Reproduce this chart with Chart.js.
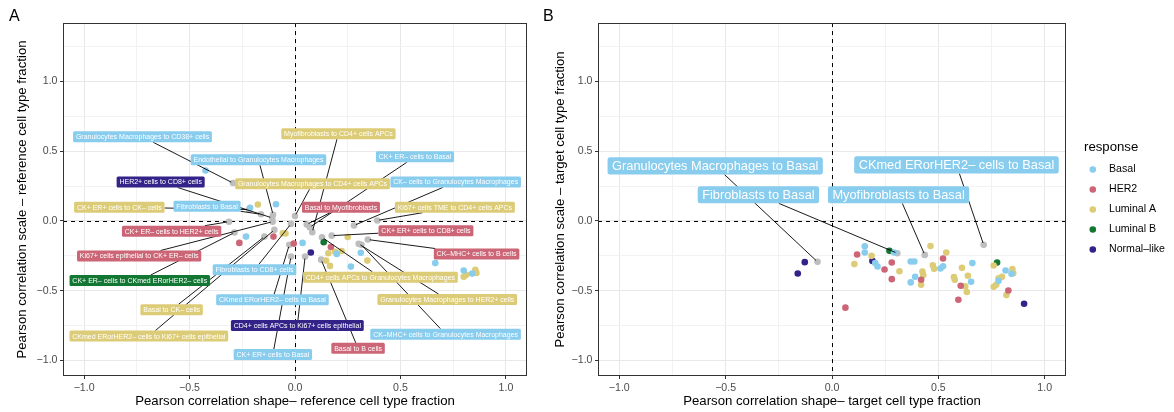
<!DOCTYPE html>
<html>
<head>
<meta charset="utf-8">
<script src="https://cdn.jsdelivr.net/npm/chart.js@4.4.0/dist/chart.umd.min.js"></script>
<style>
  body { margin: 0; background: #fff; }
  #wrap { position: relative; width: 1174px; height: 412px; overflow: hidden; }
  #chartA { position: absolute; left: 0; top: 0; }
  #chartB { position: absolute; left: 535px; top: 0; }
</style>
</head>
<body>
<div id="wrap">
  <canvas id="chartA" width="535" height="412"></canvas>
  <canvas id="chartB" width="639" height="412"></canvas>
</div>
<script>
const FONT = '"Liberation Sans", Arial, Helvetica, sans-serif';

// Response groups and their colours
const groups = ['Basal', 'HER2', 'Luminal A', 'Luminal B', 'Normal–like'];
const groupColors = ['#88CCEE', '#CC6677', '#DDCC77', '#117733', '#332288'];

// Axis breaks
const gridX = [-1, -0.75, -0.5, -0.25, 0, 0.25, 0.5, 0.75, 1];
const gridY = [-1, -0.75, -0.5, -0.25, 0, 0.25, 0.5, 0.75, 1, 1.25];
const majorBreaks = [-1, -0.5, 0, 0.5, 1];

// ---- Panel A: reference cell type fraction ----
const basalA = [[-0.424, 0.362], [-0.213, 0.095], [-0.09, 0.12], [-0.232, -0.112], [0.036, -0.157],
  [0.198, -0.236], [0.265, -0.327], [0.312, -0.228], [0.665, -0.302], [0.80, -0.355], [0.84, -0.377]];
const her2A = [[-0.264, -0.157], [-0.102, -0.112], [-0.006, -0.162], [0.17, -0.186]];
const lumAA = [[-0.176, 0.118], [-0.058, -0.088], [-0.045, -0.09], [0.25, -0.115], [0.158, -0.231],
  [0.19, -0.22], [0.221, -0.215], [0.147, -0.284], [0.166, -0.322], [0.343, -0.284],
  [0.80, -0.40], [0.812, -0.386], [0.855, -0.35], [0.86, -0.372]];
const lumBA = [[0.136, -0.152]];
const normalA = [[0.075, -0.226]];

const labelTextA = [
  'Granulocytes Macrophages to CD38+ cells',
  'Endothelial to Granulocytes Macrophages',
  'Myofibroblasts to CD4+ cells APCs',
  'CK+ ER– cells to Basal',
  'CK– cells to Granulocytes Macrophages',
  'HER2+ cells to CD8+ cells',
  'Granulocytes Macrophages to CD4+ cells APCs',
  'CK+ ER+ cells to CK– cells',
  'Fibroblasts to Basal',
  'Basal to Myofibroblasts',
  'Ki67+ cells TME to CD4+ cells APCs',
  'CK+ ER– cells to HER2+ cells',
  'CK+ ER+ cells to CD8+ cells',
  'Ki67+ cells epithelial to CK+ ER– cells',
  'CK–MHC+ cells to B cells',
  'Fibroblasts to CD8+ cells',
  'CK+ ER– cells to CKmed ERorHER2– cells',
  'CD4+ cells APCs to Granulocytes Macrophages',
  'Granulocytes Macrophages to HER2+ cells',
  'CKmed ERorHER2– cells to Basal',
  'Basal to CK– cells',
  'CKmed ERorHER2– cells to Ki67+ cells epithelial',
  'CD4+ cells APCs to Ki67+ cells epithelial',
  'CK–MHC+ cells to Granulocytes Macrophages',
  'Basal to B cells',
  'CK+ ER+ cells to Basal'
];
const labelGroupA = ['Basal', 'Basal', 'Luminal A', 'Basal', 'Basal', 'Normal–like', 'Luminal A',
  'Luminal A', 'Basal', 'HER2', 'Luminal A', 'HER2', 'HER2', 'HER2', 'HER2', 'Basal', 'Luminal B',
  'Luminal A', 'Luminal A', 'Basal', 'Luminal A', 'Luminal A', 'Normal–like', 'Basal', 'HER2', 'Basal'];
const labelPointA = [[-0.294, 0.272], [-0.104, 0.045], [0.082, -0.08], [0.07, -0.045], [0.28, -0.032],
  [-0.108, 0.022], [0.0, 0.036], [-0.218, 0.082], [-0.161, 0.048], [0.056, -0.025], [0.39, 0.004],
  [-0.313, -0.005], [0.174, -0.105], [-0.106, -0.005], [0.345, -0.133], [-0.019, -0.021],
  [-0.287, -0.083], [0.128, -0.117], [0.302, -0.164], [-0.027, -0.171], [-0.145, -0.112],
  [-0.098, -0.064], [0.048, -0.255], [0.315, -0.171], [0.124, -0.277], [-0.019, -0.255]];
// where each repelled label box sits (data units)
const labelSpotA = [[-0.723, 0.603], [-0.173, 0.439], [0.206, 0.626], [0.569, 0.46], [0.762, 0.28],
  [-0.637, 0.279], [0.083, 0.267], [-0.833, 0.099], [-0.417, 0.105], [0.218, 0.099], [0.758, 0.099],
  [-0.585, -0.073], [0.621, -0.07], [-0.739, -0.251], [0.861, -0.237], [-0.192, -0.35],
  [-0.736, -0.427], [0.405, -0.404], [0.722, -0.563], [-0.107, -0.565], [-0.585, -0.636],
  [-0.693, -0.825], [0.011, -0.749], [0.714, -0.811], [0.299, -0.913], [-0.105, -0.957]];

// ---- Panel B: target cell type fraction ----
const basalB = [[0.154, -0.181], [0.154, -0.226], [0.203, -0.302], [0.214, -0.326], [0.292, -0.226],
  [0.37, -0.29], [0.387, -0.29], [0.37, -0.44], [0.391, -0.4], [0.522, -0.324], [0.51, -0.34],
  [0.66, -0.302], [0.654, -0.436], [0.783, -0.429], [0.816, -0.355], [0.844, -0.379]];
const her2B = [[0.063, -0.621], [0.118, -0.24], [0.247, -0.348], [0.281, -0.298], [0.281, -0.417],
  [0.419, -0.421], [0.522, -0.269], [0.605, -0.464], [0.594, -0.564], [0.829, -0.498]];
const lumAB = [[0.105, -0.309], [0.186, -0.25], [0.317, -0.36], [0.425, -0.362], [0.429, -0.388],
  [0.419, -0.457], [0.463, -0.179], [0.474, -0.317], [0.48, -0.343], [0.537, -0.226], [0.573, -0.402],
  [0.577, -0.421], [0.611, -0.336], [0.626, -0.469], [0.634, -0.509], [0.639, -0.393], [0.76, -0.319],
  [0.76, -0.471], [0.772, -0.457], [0.783, -0.41], [0.799, -0.4], [0.82, -0.531], [0.848, -0.345],
  [0.852, -0.374]];
const lumBB = [[0.27, -0.214], [0.776, -0.298]];
const normalB = [[-0.128, -0.295], [-0.161, -0.376], [0.19, -0.286], [0.903, -0.593]];

const labelTextB = ['Granulocytes Macrophages to Basal', 'Fibroblasts to Basal',
  'Myofibroblasts to Basal', 'CKmed ERorHER2– cells to Basal'];
const labelGroupB = ['Basal', 'Basal', 'Basal', 'Basal'];
const labelPointB = [[-0.068, -0.293], [0.307, -0.231], [0.436, -0.243], [0.713, -0.171]];
const labelSpotB = [[-0.549, 0.395], [-0.346, 0.188], [0.313, 0.188], [0.585, 0.402]];

const toXY = arr => arr.map(([x, y]) => ({x, y}));
const isMajor = v => majorBreaks.some(m => Math.abs(m - v) < 1e-9);
const fmt = v => (v < 0 ? '\u2212' : '') + Math.abs(v).toFixed(1);

// dashed zero lines, repelled labels, panel border, tag and legend
const panelDecor = {
  id: 'panelDecor',
  beforeDatasetsDraw(chart) {
    const {ctx, chartArea: a, scales: {x, y}} = chart;
    const x0 = Math.round(x.getPixelForValue(0)) + 0.5;
    const y0 = Math.round(y.getPixelForValue(0)) + 0.5;
    ctx.save();
    ctx.strokeStyle = '#000';
    ctx.lineWidth = 1;
    ctx.setLineDash([4, 4]);
    ctx.beginPath();
    ctx.moveTo(x0, a.top); ctx.lineTo(x0, a.bottom);
    ctx.moveTo(a.left, y0); ctx.lineTo(a.right, y0);
    ctx.stroke();
    ctx.restore();
  },
  afterDatasetsDraw(chart, args, opts) {
    const {ctx, scales: {x, y}} = chart;
    const lab = opts.labels;
    ctx.save();
    ctx.font = `${lab.size}px ${FONT}`;
    const boxes = lab.text.map((t, i) => ({
      t,
      w: ctx.measureText(t).width + 2 * lab.padX,
      h: lab.size + 2 * lab.padY,
      cx: x.getPixelForValue(lab.spot[i][0]),
      cy: y.getPixelForValue(lab.spot[i][1]),
      px: x.getPixelForValue(lab.point[i][0]),
      py: y.getPixelForValue(lab.point[i][1]),
      color: groupColors[groups.indexOf(lab.group[i])]
    }));
    // leader segments: from the box edge towards the point
    ctx.strokeStyle = '#000';
    ctx.lineWidth = 0.9;
    boxes.forEach(b => {
      const dx = b.px - b.cx, dy = b.py - b.cy;
      const tx = dx ? (b.w / 2) / Math.abs(dx) : Infinity;
      const ty = dy ? (b.h / 2) / Math.abs(dy) : Infinity;
      const t = Math.min(tx, ty);
      if (t >= 1) return;
      const len = Math.hypot(dx, dy);
      const sx = b.cx + dx * t, sy = b.cy + dy * t;
      const ex = b.px - dx / len * 2, ey = b.py - dy / len * 2;
      if (Math.hypot(ex - sx, ey - sy) < 4) return;
      ctx.beginPath();
      ctx.moveTo(sx, sy);
      ctx.lineTo(ex, ey);
      ctx.stroke();
    });
    // label boxes
    ctx.textAlign = 'center';
    ctx.textBaseline = 'middle';
    boxes.forEach(b => {
      ctx.fillStyle = b.color;
      ctx.beginPath();
      ctx.roundRect(b.cx - b.w / 2, b.cy - b.h / 2, b.w, b.h, lab.radius);
      ctx.fill();
      ctx.fillStyle = '#fff';
      ctx.fillText(b.t, b.cx, b.cy + 0.5);
    });
    ctx.restore();
  },
  afterDraw(chart, args, opts) {
    const {ctx, chartArea: a} = chart;
    ctx.save();
    ctx.strokeStyle = '#333333';
    ctx.lineWidth = 1;
    ctx.strokeRect(a.left + 0.5, a.top + 0.5, a.width - 1, a.height - 1);

    ctx.fillStyle = '#000';
    ctx.font = `16px ${FONT}`;
    ctx.textAlign = 'left';
    ctx.textBaseline = 'middle';
    ctx.fillText(opts.tag, opts.tagX, opts.tagY);

    if (opts.legend) {
      const L = opts.legend;
      ctx.font = `13.2px ${FONT}`;
      ctx.fillText('response', L.x, L.titleY);
      ctx.font = `10.6px ${FONT}`;
      groups.forEach((g, i) => {
        const yy = L.firstY + i * L.step;
        ctx.fillStyle = groupColors[i];
        ctx.beginPath();
        ctx.arc(L.x + L.dotDx, yy, 3.3, 0, Math.PI * 2);
        ctx.fill();
        ctx.fillStyle = '#000';
        ctx.fillText(g, L.x + L.textDx, yy);
      });
    }
    ctx.restore();
  }
};

function axis(breaks, titleText, fitFn, titlePad) {
  return {
    type: 'linear',
    afterBuildTicks: s => { s.ticks = breaks.map(v => ({value: v})); },
    afterFit: fitFn,
    border: {display: false},
    grid: {
      color: c => (c.tick && isMajor(c.tick.value)) ? '#e8e8e8' : '#f2f2f2',
      lineWidth: 1,
      tickLength: 3,
      tickWidth: 1,
      tickColor: c => (c.tick && isMajor(c.tick.value)) ? '#333333' : 'rgba(0,0,0,0)'
    },
    ticks: {
      autoSkip: false,
      maxRotation: 0,
      padding: 2.5,
      color: '#4d4d4d',
      font: {family: FONT, size: 10.6},
      callback: v => isMajor(v) ? fmt(v) : ''
    },
    title: {
      display: true,
      text: titleText,
      color: '#000',
      font: {family: FONT, size: 13.2},
      padding: titlePad
    }
  };
}

function panelChart(id, cfg) {
  const series = cfg.series;
  const datasets = groups.map((g, i) => ({
    label: g,
    data: toXY(series[i]),
    backgroundColor: groupColors[i],
    pointRadius: 3.3,
    pointBorderWidth: 0
  }));
  datasets.push({
    label: 'labelled',
    data: toXY(cfg.labels.point),
    backgroundColor: '#bebebe',
    pointRadius: 3.3,
    pointBorderWidth: 0
  });

  const xAxis = axis(gridX, cfg.xTitle, s => { s.height = 36; }, {top: 0, bottom: 3});
  xAxis.min = -1.1; xAxis.max = 1.1;
  const yAxis = axis(gridY, cfg.yTitle, s => { s.width = cfg.yWidth; }, {top: cfg.yTitlePad, bottom: 0});
  yAxis.min = -1.111; yAxis.max = 1.419;

  return new Chart(document.getElementById(id), {
    type: 'scatter',
    data: {datasets},
    options: {
      responsive: false,
      animation: false,
      events: [],
      layout: {padding: {left: 0, top: 23, right: cfg.padRight, bottom: 0}},
      plugins: {
        legend: {display: false},
        tooltip: {enabled: false},
        panelDecor: {
          tag: cfg.tag, tagX: cfg.tagX, tagY: 16.5,
          labels: cfg.labels,
          legend: cfg.legend || null
        }
      },
      scales: {x: xAxis, y: yAxis}
    },
    plugins: [panelDecor]
  });
}

panelChart('chartA', {
  series: [basalA, her2A, lumAA, lumBA, normalA],
  labels: {text: labelTextA, group: labelGroupA, point: labelPointA, spot: labelSpotA,
    size: 7, padX: 2.8, padY: 2, radius: 1.5},
  xTitle: 'Pearson correlation shape– reference cell type fraction',
  yTitle: 'Pearson correlation scale – reference cell type fraction',
  yWidth: 63, yTitlePad: 14, padRight: 8,
  tag: 'A', tagX: 9
});

panelChart('chartB', {
  series: [basalB, her2B, lumAB, lumBB, normalB],
  labels: {text: labelTextB, group: labelGroupB, point: labelPointB, spot: labelSpotB,
    size: 12.8, padX: 4.5, padY: 2.2, radius: 2.5},
  xTitle: 'Pearson correlation shape– target cell type fraction',
  yTitle: 'Pearson correlation scale – target cell type fraction',
  yWidth: 63, yTitlePad: 17, padRight: 108,
  tag: 'B', tagX: 8,
  legend: {x: 549, titleY: 147, firstY: 169.5, step: 20, dotDx: 8.8, textDx: 25}
});
</script>
</body>
</html>
